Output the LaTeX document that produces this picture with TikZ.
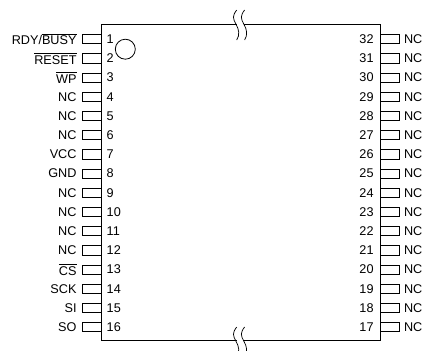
\documentclass[tikz,border=0pt]{standalone}
\usepackage{fontspec}
\setmainfont{Liberation Sans}
\usetikzlibrary{positioning, calc}

\begin{document}
\begin{tikzpicture}[x=0.75pt, y=-0.75pt, every node/.style={font=\fontsize{9.5}{11}\selectfont}]
    \tikzset{chipbody/.style={draw, line width=0.75pt, minimum width=209.25pt, minimum height=237.4pt, inner sep=0pt},
        pinbox/.style={draw, line width=0.6pt, minimum width=14.25pt, minimum height=6.9pt, inner sep=0pt},
        lab/.style={inner sep=0pt},
        breakline/.style={line width=0.55pt}}
    \useasboundingbox (0,0) rectangle (423,350);
    % package outline
    \node[chipbody] (chip) at (240.6,182.7) {};
    % left row of pins, top to bottom
    \foreach \num/\name [count=\i from 0] in {1/{RDY/$\overline{\mbox{BUSY}}$}, 2/$\overline{\mbox{RESET}}$, 3/$\overline{\mbox{WP}}$, 4/NC, 5/NC, 6/NC, 7/VCC, 8/GND, 9/NC, 10/NC, 11/NC, 12/NC, 13/$\overline{\mbox{CS}}$, 14/SCK, 15/SI, 16/SO} {
        \node[pinbox] (p\num) at (91.5,39.2+19.2*\i) {};
        \node[lab, left=3.6pt of p\num] {\name};
        \node[lab, right=3.8pt of p\num.east, anchor=west] {\num};
    }
    % right row of pins, top to bottom
    \foreach \num [count=\i from 0] in {32,31,...,17} {
        \node[pinbox] (p\num) at (389.6,39.2+19.2*\i) {};
        \node[lab, right=3.2pt of p\num] {NC};
        \node[lab, left=4.4pt of p\num.west, anchor=east] {\num};
    }
    % index mark
    \node[draw, circle, line width=0.6pt, minimum size=15pt, inner sep=0pt] (mark) at (125.3,49.2) {};
    % break marks on the long sides
    \coordinate (topa) at (236.7,10);
    \coordinate (topb) at (244.6,10);
    \coordinate (bota) at (236.7,327);
    \coordinate (botb) at (244.6,327);
    \foreach \a/\b in {topa/topb, bota/botb} {
        \fill[white] ($(\a)+(0,12)$) rectangle ($(\b)+(-0.7,17)$);
        \draw[breakline] (\a) .. controls +(-4.5,6) and +(-3.2,-6) .. ++(-0.7,14.3) .. controls +(3,5) and +(3.3,-5) .. ++(0.7,15.7);
        \draw[breakline] (\b) .. controls +(-4.5,6) and +(-3.2,-6) .. ++(-0.7,14.3) .. controls +(3,5) and +(3.3,-5) .. ++(0.7,15.7);
    }
\end{tikzpicture}
\end{document}
